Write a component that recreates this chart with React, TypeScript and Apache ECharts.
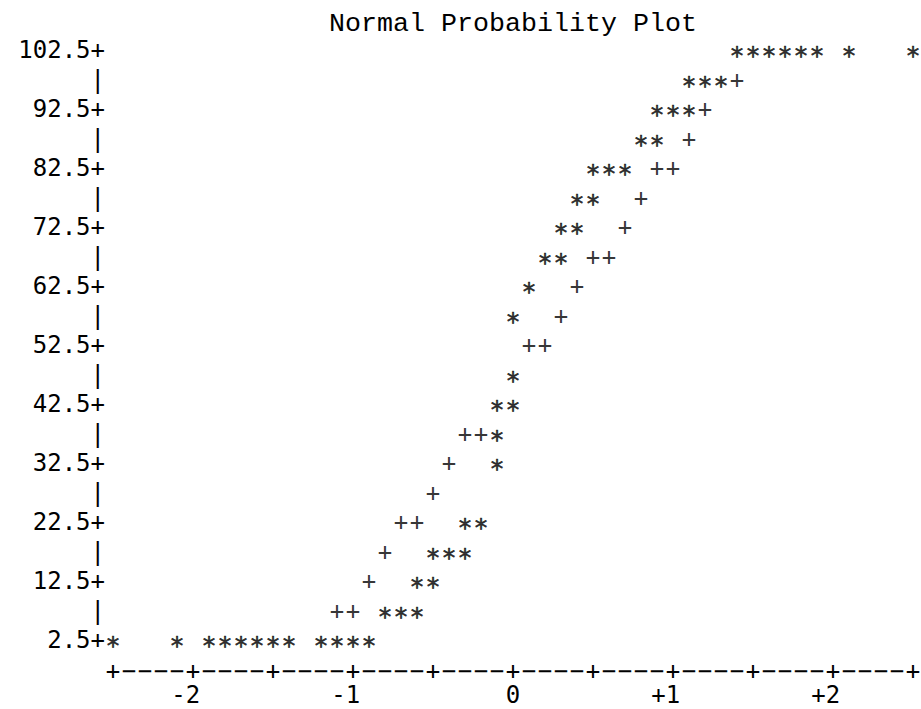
import React, { useEffect, useRef } from "react";
import * as echarts from "echarts";

// Row levels of the character grid (top to bottom) and the labelled ones
const yRows = [102.5, 97.5, 92.5, 87.5, 82.5, 77.5, 72.5, 67.5, 62.5, 57.5, 52.5,
  47.5, 42.5, 37.5, 32.5, 27.5, 22.5, 17.5, 12.5, 7.5, 2.5];
const yMajorTicks = [102.5, 92.5, 82.5, 72.5, 62.5, 52.5, 42.5, 32.5, 22.5, 12.5, 2.5];
const xTickLabels = [-2, -1, 0, 1, 2];

// Normal quantiles of the observed data ('*'), one list per row of yRows
const starX: number[][] = [
  [1.4, 1.5, 1.6, 1.7, 1.8, 1.9, 2.1, 2.5],
  [1.1, 1.2, 1.3],
  [0.9, 1.0, 1.1],
  [0.8, 0.9],
  [0.5, 0.6, 0.7],
  [0.4, 0.5],
  [0.3, 0.4],
  [0.2, 0.3],
  [0.1],
  [0.0],
  [],
  [0.0],
  [-0.1, 0.0],
  [-0.1],
  [-0.1],
  [],
  [-0.3, -0.2],
  [-0.5, -0.4, -0.3],
  [-0.6, -0.5],
  [-0.8, -0.7, -0.6],
  [-2.5, -2.1, -1.9, -1.8, -1.7, -1.6, -1.5, -1.4, -1.2, -1.1, -1.0, -0.9],
];

// Reference line ('+'), one list per row of yRows
const plusX: number[][] = [
  [],
  [1.4],
  [1.2],
  [1.1],
  [0.9, 1.0],
  [0.8],
  [0.7],
  [0.5, 0.6],
  [0.4],
  [0.3],
  [0.1, 0.2],
  [],
  [],
  [-0.3, -0.2],
  [-0.4],
  [-0.5],
  [-0.7, -0.6],
  [-0.8],
  [-0.9],
  [-1.1, -1.0],
  [],
];

const MONO = '"DejaVu Sans Mono", monospace';
const FS = 24;

function toPoints(rows: number[][]): number[][] {
  const out: number[][] = [];
  rows.forEach((xs, i) => xs.forEach((x) => out.push([x, yRows[i]])));
  return out;
}

export default function App() {
  const ref = useRef<HTMLDivElement>(null);
  useEffect(() => {
    document.body.style.margin = "0";
    const chart = echarts.init(ref.current!, null, { renderer: "svg" });
    const labelBase = {
      fontFamily: MONO,
      fontSize: FS,
      fontWeight: "normal",
      color: "#000",
      textBorderWidth: 0,
    };
    const option: any = {
      animation: false,
      backgroundColor: "#fff",
      title: {
        text: "Normal Probability Plot",
        left: 329,
        top: 9,
        padding: 0,
        textStyle: {
          fontFamily: '"Liberation Mono", monospace',
          fontSize: 26.67,
          lineHeight: 30,
          fontWeight: "normal",
          color: "#000",
        },
      },
      grid: { left: 113, right: 8, top: 50, bottom: 69, containLabel: false, outerBoundsMode: "none" },
      xAxis: [
        {
          type: "value",
          min: -2.5,
          max: 2.5,
          interval: 0.1,
          axisLine: { show: false },
          axisTick: { show: false },
          splitLine: { show: false },
          axisLabel: {
            ...labelBase,
            lineHeight: 20,
            margin: 21,
            showMinLabel: true,
            showMaxLabel: true,
            hideOverlap: false,
            formatter: (v: number) => (Math.round(v * 10) % 5 === 0 ? "+" : "\u2212"),
          },
        },
        {
          type: "value",
          min: -2.545,
          max: 2.455,
          position: "bottom",
          axisLine: { show: false },
          axisTick: { show: false },
          splitLine: { show: false },
          axisLabel: {
            ...labelBase,
            lineHeight: 18,
            margin: 46,
            align: "right",
            customValues: xTickLabels,
            formatter: (v: number) => (v > 0 ? "+" + v : String(v)),
          },
        },
      ],
      yAxis: {
        type: "value",
        min: 2.5,
        max: 102.5,
        axisLine: { show: false },
        axisTick: { show: false },
        splitLine: { show: false },
        axisLabel: {
          ...labelBase,
          lineHeight: 24,
          margin: 8,
          align: "right",
          customValues: yRows,
          formatter: (v: number) =>
            yMajorTicks.some((t) => Math.abs(t - v) < 1e-6) ? v.toFixed(1) + "+" : "|",
        },
      },
      series: [
        {
          name: "data",
          type: "scatter",
          xAxisIndex: 0,
          symbolSize: 1,
          itemStyle: { color: "rgba(0,0,0,0)" },
          data: toPoints(starX),
          label: {
            show: true,
            position: "inside",
            formatter: "*",
            offset: [0, 5.5],
            ...labelBase,
            fontSize: 25,
            lineHeight: 14,
            textBorderColor: "#000",
            textBorderWidth: 0.6,
          },
          silent: true,
        },
        {
          name: "reference",
          type: "scatter",
          xAxisIndex: 0,
          symbolSize: 1,
          itemStyle: { color: "rgba(0,0,0,0)" },
          data: toPoints(plusX),
          label: {
            show: true,
            position: "inside",
            formatter: "+",
            ...labelBase,
            lineHeight: 18,
          },
          silent: true,
        },
      ],
    };
    chart.setOption(option);
    return () => chart.dispose();
  }, []);
  return <div ref={ref} style={{ width: 921, height: 709 }} />;
}
